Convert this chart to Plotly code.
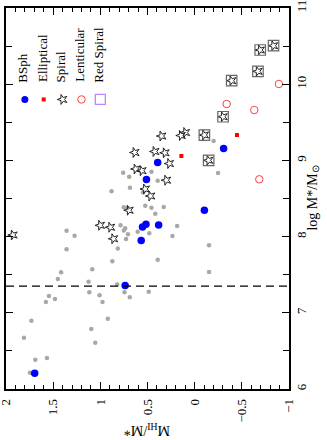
import plotly.graph_objects as go

# ---- data (x = log M_HI/M*, y = log M*/Msun) ----
bsph_x = [1.696, 0.737, 0.567, 0.553, 0.516, 0.382, 0.511, 0.392, -0.103, -0.307]
bsph_y = [6.206, 7.358, 7.949, 8.126, 8.161, 8.152, 8.749, 8.972, 8.345, 9.156]

ell_x = [0.141, -0.449]
ell_y = [9.058, 9.333]

len_x = [-0.339, -0.632, -0.893, -0.685]
len_y = [9.740, 9.661, 10.003, 8.752]

redsp_x = [-0.103, -0.148, -0.301, -0.392, -0.671, -0.695, -0.836]
redsp_y = [9.333, 9.001, 9.573, 10.046, 10.169, 10.449, 10.505]

sp_x = [1.926, 1.000, 0.892, 0.860, 0.696, 0.624, 0.559, 0.524, 0.467, 0.299,
        0.268, 0.635, 0.423, 0.315, 0.350, 0.144, 0.098]
sp_y = [8.021, 8.148, 8.123, 7.972, 8.346, 8.887, 8.865, 8.625, 8.533, 8.740,
        8.959, 9.104, 9.117, 9.100, 9.320, 9.327, 9.366]

bg_x = [1.358, 0.815, 0.873, 1.416, 1.450, 1.086, 1.125, 0.821, 0.744, 0.688,
        1.117, 1.008, 0.977, 1.545, 1.577, 1.481, 1.731, 1.810, 0.921, 1.096,
        1.054, 1.689, 1.566, 1.746, 1.358, 1.273, 0.487, 0.758, 0.694, 0.458,
        0.392, 0.686, 0.881, 0.548, 0.752, 0.714, 0.524, 0.458, 0.418, 0.328,
        0.786, 0.737, 0.751, 0.707, 0.728, 0.604, 0.481, 0.186, 0.236, 0.392,
        -0.152, -0.152, -0.248, -0.201]
bg_y = [7.833, 7.844, 7.676, 7.531, 7.444, 7.571, 7.408, 7.371, 7.269, 7.203,
        7.269, 7.230, 7.142, 7.220, 7.142, 7.181, 6.896, 6.673, 6.923, 6.787,
        6.608, 6.385, 6.407, 6.214, 8.077, 8.012, 7.277, 8.839, 8.786, 8.852,
        8.734, 8.642, 8.594, 8.579, 8.386, 8.375, 8.406, 8.379, 8.299, 8.388,
        8.148, 8.109, 8.080, 8.031, 7.969, 8.064, 8.043, 8.139, 8.008, 7.696,
        7.886, 7.535, 8.835, 9.255]

mass_limit = 7.35

legend_labels = ["BSph", "Elliptical", "Spiral", "Lenticular", "Red Spiral"]
legend_x = [1.8, 1.6, 1.4, 1.2, 1.0]
legend_y = 9.8
legend_text_y = 10.0

x_ticks = [2, 1.5, 1, 0.5, 0, -0.5, -1]
x_ticklabels = ["2", "1.5", "1", "0.5", "0", "\u22120.5", "\u22121"]
y_ticks = [6, 7, 8, 9, 10, 11]

FONT = "Liberation Serif"
STAR = dict(symbol="star-open", size=7.5, angle=-90, color="#222", line=dict(width=1, color="#222"))

fig = go.Figure()

fig.add_trace(go.Scatter(x=bg_x, y=bg_y, mode="markers",
                         marker=dict(color="#a8a8a8", size=4.5), showlegend=False))
fig.add_trace(go.Scatter(x=sp_x, y=sp_y, mode="markers", marker=STAR, showlegend=False))
fig.add_trace(go.Scatter(x=redsp_x, y=redsp_y, mode="markers", marker=STAR, showlegend=False))
fig.add_trace(go.Scatter(x=redsp_x, y=redsp_y, mode="markers",
                         marker=dict(symbol="square-open", size=10.5,
                                     color="#666", line=dict(width=1.2, color="#666")),
                         showlegend=False))
fig.add_trace(go.Scatter(x=len_x, y=len_y, mode="markers",
                         marker=dict(symbol="circle-open", size=7.5,
                                     color="#ff4040", line=dict(width=1, color="#ff4040")),
                         showlegend=False))
fig.add_trace(go.Scatter(x=ell_x, y=ell_y, mode="markers",
                         marker=dict(symbol="square", size=4, color="#ff0000"),
                         showlegend=False))
fig.add_trace(go.Scatter(x=bsph_x, y=bsph_y, mode="markers",
                         marker=dict(color="#0000ff", size=7.5), showlegend=False))

# legend keys
leg_styles = [
    dict(symbol="circle", size=7, color="#0000ff"),
    dict(symbol="square", size=4, color="#ff0000"),
    STAR,
    dict(symbol="circle-open", size=7.5, color="#ff4040", line=dict(width=1, color="#ff4040")),
    dict(symbol="square-open", size=10, color="#b888ff", line=dict(width=1.3, color="#b888ff")),
]
for lx, st in zip(legend_x, leg_styles):
    fig.add_trace(go.Scatter(x=[lx], y=[legend_y], mode="markers", marker=st, showlegend=False))

for lx, lab in zip(legend_x, legend_labels):
    fig.add_annotation(x=lx + 0.02, y=legend_text_y, xref="x", yref="y", text=lab,
                       textangle=-90, showarrow=False, xanchor="center", yanchor="bottom",
                       font=dict(family=FONT, size=13, color="black"))

fig.add_shape(type="line", xref="paper", x0=0, x1=1, yref="y", y0=mass_limit, y1=mass_limit,
              line=dict(color="black", width=1.3, dash="8px,5px"))

fig.add_annotation(xref="paper", yref="paper", x=0.5, y=-0.108, text="M<sub>HI</sub>/M*",
                   textangle=180, showarrow=False, xanchor="center", yanchor="middle",
                   font=dict(family=FONT, size=14, color="black"))
fig.add_annotation(xref="paper", yref="paper", x=1.085, y=0.5, text="log M*/M<sub>\u2299</sub>",
                   textangle=-90, showarrow=False, xanchor="center", yanchor="middle",
                   font=dict(family=FONT, size=14, color="black"))

fig.update_xaxes(range=[2, -1], tickmode="array", tickvals=x_ticks, ticktext=x_ticklabels,
                 tickangle=-90, ticks="inside", ticklen=7, tickwidth=1, tickcolor="black",
                 minor=dict(dtick=0.1, ticks="inside", ticklen=4, tickcolor="black"),
                 showline=True, linecolor="black", linewidth=1.5, mirror="ticks",
                 showgrid=False, zeroline=False, automargin=False, ticklabeloverflow="allow",
                 ticklabelstandoff=3,
                 tickfont=dict(family=FONT, size=13, color="black"))
fig.update_yaxes(range=[6, 11], side="right", tickmode="array", tickvals=y_ticks,
                 tickangle=-90, ticks="inside", ticklen=7, tickwidth=1, tickcolor="black",
                 minor=dict(dtick=0.5, ticks="inside", ticklen=6, tickcolor="black"),
                 showline=True, linecolor="black", linewidth=1.5, mirror="ticks",
                 showgrid=False, zeroline=False, automargin=False, ticklabeloverflow="allow",
                 tickfont=dict(family=FONT, size=13, color="black"))

fig.update_layout(width=327, height=440, margin=dict(l=6, r=38, t=8, b=51),
                  paper_bgcolor="white", plot_bgcolor="white", showlegend=False)

fig.write_html("out.html", config={"displayModeBar": False},
               post_script="document.body.style.margin='0';document.body.style.padding='0';")
